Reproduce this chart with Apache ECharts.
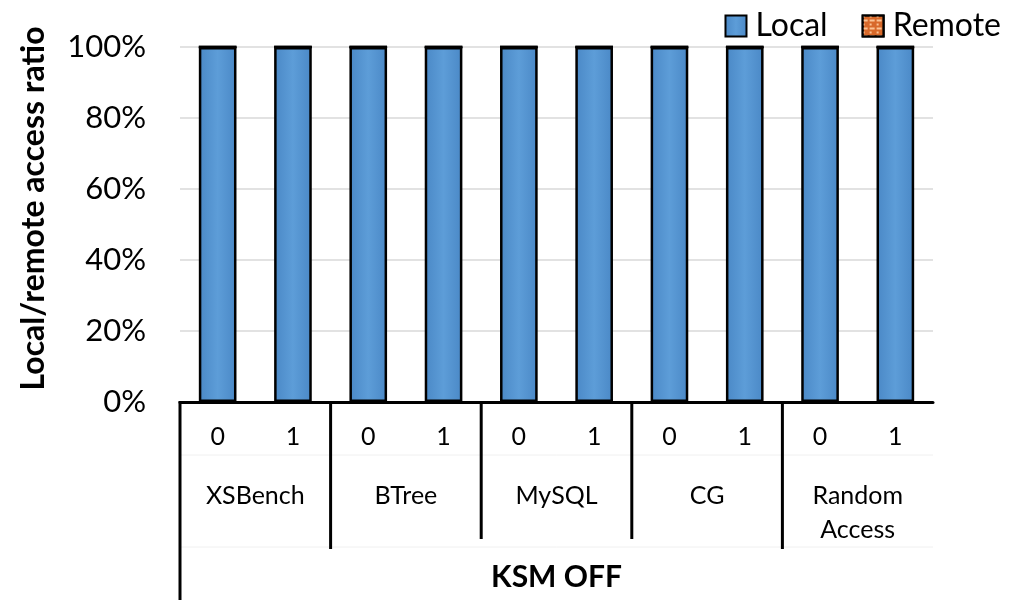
<!DOCTYPE html>
<html>
<head>
<meta charset="utf-8">
<script src="https://cdn.jsdelivr.net/npm/echarts@6/dist/echarts.min.js"></script>
<style>
  html, body { margin: 0; padding: 0; background: #fff; }
  #chart { width: 1014px; height: 600px; }
</style>
</head>
<body>
<div id="chart"></div>
<script>
// Bars: thread index within each workload
const categories = ['0', '1', '0', '1', '0', '1', '0', '1', '0', '1'];
// Workload groups, two bars each
const groups = ['XSBench', 'BTree', 'MySQL', 'CG', 'Random\nAccess'];
const groupSize = 2;
const outerLabel = 'KSM OFF';
// Share of accesses (percent)
const localValues = [100, 100, 100, 100, 100, 100, 100, 100, 100, 100];
const remoteValues = [0, 0, 0, 0, 0, 0, 0, 0, 0, 0];
const yTicks = [0, 20, 40, 60, 80, 100];

const FONT = 'Lato, "Open Sans", "DejaVu Sans", sans-serif';

const chart = echarts.init(document.getElementById('chart'), null, { renderer: 'canvas' });

const localFill = new echarts.graphic.LinearGradient(0, 0, 1, 0, [
  { offset: 0, color: '#4a88c6' },
  { offset: 0.5, color: '#5d9dd8' },
  { offset: 1, color: '#4a88c6' }
]);

const option = {
  animation: false,
  backgroundColor: '#fff',
  textStyle: { fontFamily: FONT },
  legend: {
    right: 8,
    top: 5,
    icon: 'rect',
    itemWidth: 21,
    itemHeight: 21,
    itemGap: 34,
    textStyle: { fontSize: 32, color: '#000', fontFamily: FONT, padding: [0, 0, 0, 4] },
    data: ['Local', 'Remote']
  },
  grid: { left: 180, right: 81, top: 47, bottom: 198, containLabel: false },
  xAxis: [
    {
      type: 'category',
      data: categories,
      axisLine: { show: true, lineStyle: { color: '#000', width: 3 } },
      axisTick: { show: false },
      axisLabel: { fontSize: 25, color: '#000', margin: 22, fontFamily: FONT }
    },
    {
      type: 'category',
      data: groups,
      position: 'bottom',
      axisLine: { show: false },
      axisTick: { show: false },
      axisLabel: {
        fontSize: 25, color: '#000', margin: 77, lineHeight: 34,
        verticalAlign: 'top', fontFamily: FONT
      },
      name: outerLabel,
      nameLocation: 'middle',
      nameGap: 160,
      nameTextStyle: { fontSize: 30, fontWeight: 'bold', color: '#000', fontFamily: FONT }
    }
  ],
  yAxis: {
    type: 'value',
    min: yTicks[0],
    max: yTicks[yTicks.length - 1],
    interval: 20,
    axisLine: { show: false },
    axisTick: { show: false },
    splitLine: { lineStyle: { color: '#d9d9d9', width: 1.5 } },
    axisLabel: {
      formatter: '{value}%', fontSize: 31, color: '#000', margin: 34, fontFamily: FONT
    },
    name: 'Local/remote access ratio',
    nameLocation: 'middle',
    nameGap: 130,
    nameTextStyle: {
      fontSize: 32, fontWeight: 'bold', color: '#000', fontFamily: FONT,
      padding: [0, 0, 0, 32]
    }
  },
  series: [
    {
      name: 'Local',
      type: 'bar',
      stack: 'ratio',
      data: localValues,
      barWidth: '50%',
      itemStyle: { color: localFill, borderColor: '#000', borderWidth: 2.5 }
    },
    {
      name: 'Remote',
      type: 'bar',
      stack: 'ratio',
      data: remoteValues,
      barWidth: '50%',
      itemStyle: {
        color: '#d8692a',
        borderColor: '#000',
        borderWidth: 2.5,
        decal: {
          symbol: 'rect',
          symbolSize: 1,
          color: 'rgba(255, 205, 160, 0.9)',
          dashArrayX: [[5, 2], [2, 5]],
          dashArrayY: [2, 2],
          rotation: 0
        }
      }
    }
  ]
};

chart.setOption(option);

// Group separators of the multi-level category axis
function drawSeparators() {
  const axisY = chart.convertToPixel({ yAxisIndex: 0 }, 0);
  const step = chart.convertToPixel({ xAxisIndex: 0 }, 1) - chart.convertToPixel({ xAxisIndex: 0 }, 0);
  const lines = [];
  const innerDepth = [147, 137, 137, 147];
  for (let g = 0; g < groups.length; g++) {
    const firstIdx = g * groupSize;
    const x = chart.convertToPixel({ xAxisIndex: 0 }, firstIdx) - step / 2;
    const depth = g === 0 ? 600 - axisY : innerDepth[g - 1];
    lines.push({
      type: 'line',
      shape: { x1: x, y1: axisY - 1, x2: x, y2: axisY + depth },
      style: { stroke: '#000', lineWidth: 3 },
      silent: true
    });
  }
  // faint table rules between label rows
  const right = chart.convertToPixel({ xAxisIndex: 0 }, categories.length - 1) + step / 2;
  const left = chart.convertToPixel({ xAxisIndex: 0 }, 0) - step / 2;
  [53, 145].forEach(function (dy) {
    lines.push({
      type: 'line',
      shape: { x1: left, y1: axisY + dy, x2: right, y2: axisY + dy },
      style: { stroke: '#f0f0f0', lineWidth: 1 },
      silent: true,
      z: -1
    });
  });
  chart.setOption({ graphic: lines });
}
drawSeparators();
</script>
</body>
</html>
